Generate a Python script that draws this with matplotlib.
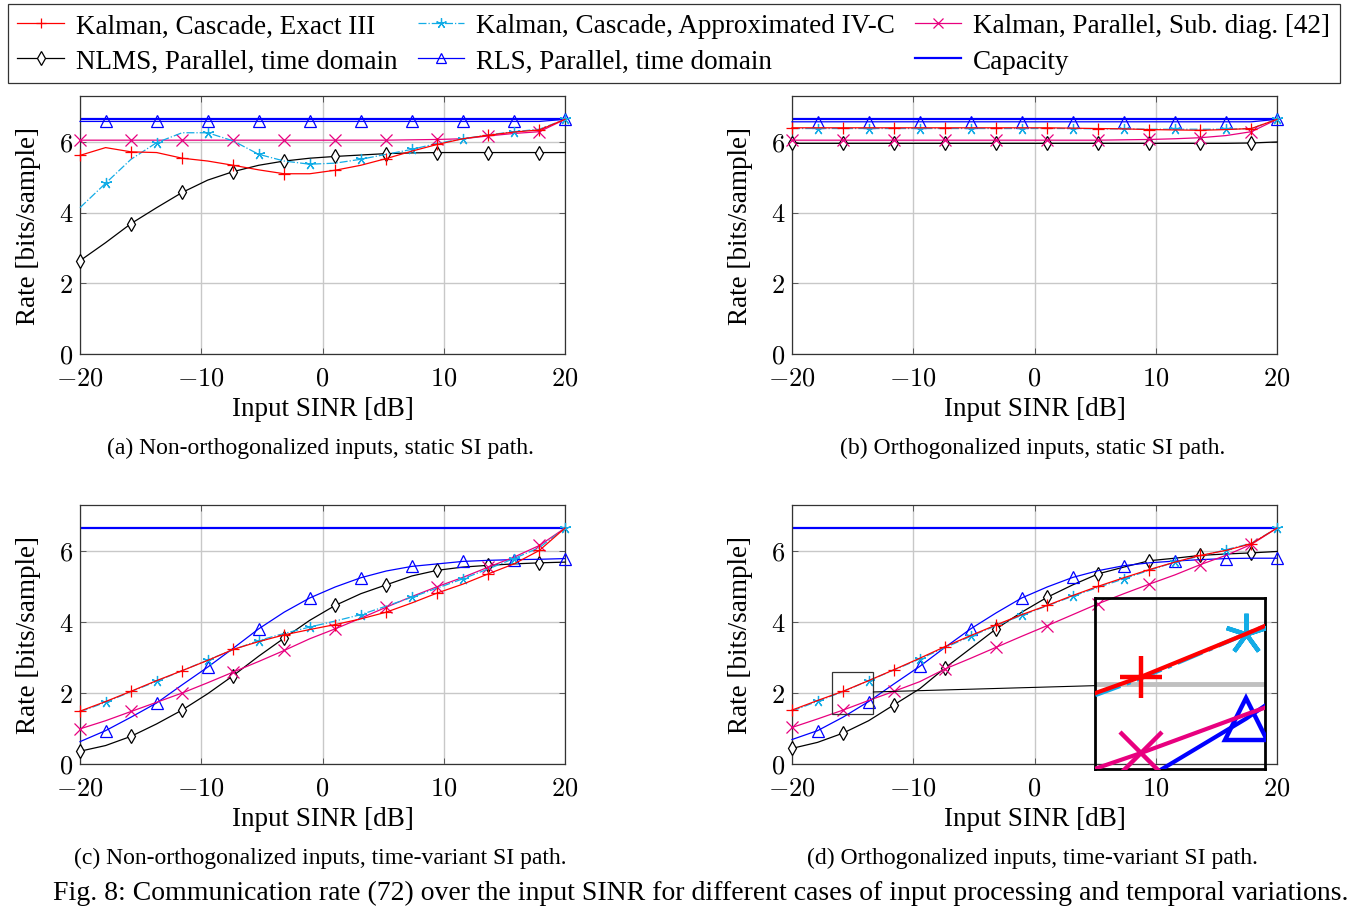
import matplotlib
matplotlib.use("Agg")
import matplotlib.pyplot as plt
from matplotlib.patches import Rectangle, ConnectionPatch
from matplotlib.lines import Line2D

plt.rcParams['font.family'] = ['Liberation Serif', 'DejaVu Serif']
plt.rcParams['mathtext.fontset'] = 'cm'

# Input SINR [dB]
sinr = [-20, -17.89, -15.79, -13.68, -11.58, -9.47, -7.37, -5.26, -3.16, -1.05,
        1.05, 3.16, 5.26, 7.37, 9.47, 11.58, 13.68, 15.79, 17.89, 20]

capacity = 6.66

# (a) non-orthogonalized, static
exact_a = [5.62, 5.84, 5.72, 5.70, 5.54, 5.46, 5.34, 5.21, 5.10, 5.10,
           5.20, 5.34, 5.53, 5.74, 5.93, 6.09, 6.19, 6.28, 6.34, 6.64]
approx_a = [4.14, 4.83, 5.51, 5.98, 6.26, 6.26, 6.03, 5.65, 5.46, 5.37,
            5.40, 5.51, 5.65, 5.79, 5.96, 6.09, 6.20, 6.29, 6.36, 6.64]
subdiag_a = [6.05, 6.05, 6.05, 6.05, 6.05, 6.05, 6.05, 6.05, 6.05, 6.05,
             6.05, 6.05, 6.05, 6.06, 6.07, 6.09, 6.17, 6.24, 6.29, 6.64]
nlms_a = [2.64, 3.15, 3.69, 4.14, 4.57, 4.92, 5.16, 5.34, 5.46, 5.54,
          5.59, 5.63, 5.67, 5.69, 5.70, 5.70, 5.70, 5.70, 5.70, 5.70]
rls_a = [6.58, 6.58, 6.58, 6.58, 6.58, 6.58, 6.58, 6.58, 6.58, 6.58,
         6.58, 6.58, 6.58, 6.58, 6.58, 6.58, 6.58, 6.58, 6.58, 6.64]

# (b) orthogonalized, static
exact_b = [6.40, 6.40, 6.40, 6.40, 6.40, 6.40, 6.40, 6.40, 6.40, 6.40,
           6.40, 6.39, 6.38, 6.37, 6.35, 6.34, 6.33, 6.35, 6.38, 6.64]
approx_b = [6.38, 6.38, 6.38, 6.38, 6.38, 6.38, 6.38, 6.38, 6.38, 6.38,
            6.38, 6.38, 6.37, 6.37, 6.36, 6.36, 6.36, 6.36, 6.38, 6.64]
subdiag_b = [6.05, 6.05, 6.05, 6.05, 6.05, 6.05, 6.05, 6.05, 6.05, 6.05,
             6.05, 6.05, 6.05, 6.06, 6.07, 6.09, 6.12, 6.18, 6.29, 6.64]
nlms_b = [5.96, 5.96, 5.96, 5.96, 5.96, 5.96, 5.96, 5.96, 5.96, 5.96,
          5.96, 5.96, 5.96, 5.96, 5.96, 5.96, 5.96, 5.96, 5.97, 6.00]
rls_b = [6.57, 6.57, 6.57, 6.57, 6.57, 6.57, 6.57, 6.57, 6.57, 6.57,
         6.57, 6.57, 6.57, 6.57, 6.57, 6.57, 6.57, 6.57, 6.57, 6.64]

# (c) non-orthogonalized, time-variant
exact_c = [1.49, 1.76, 2.05, 2.35, 2.63, 2.92, 3.23, 3.45, 3.64, 3.79,
           3.93, 4.09, 4.28, 4.54, 4.82, 5.07, 5.36, 5.64, 6.02, 6.65]
approx_c = [1.47, 1.74, 2.04, 2.33, 2.63, 2.93, 3.22, 3.48, 3.68, 3.86,
            4.03, 4.21, 4.45, 4.70, 4.96, 5.22, 5.50, 5.79, 6.10, 6.65]
subdiag_c = [0.99, 1.22, 1.48, 1.74, 2.00, 2.29, 2.59, 2.89, 3.20, 3.53,
             3.81, 4.11, 4.42, 4.72, 5.00, 5.26, 5.55, 5.83, 6.16, 6.65]
nlms_c = [0.36, 0.52, 0.78, 1.13, 1.52, 1.98, 2.49, 3.04, 3.55, 4.05,
          4.47, 4.80, 5.05, 5.30, 5.46, 5.55, 5.60, 5.64, 5.67, 5.69]
rls_c = [0.63, 0.94, 1.32, 1.72, 2.23, 2.73, 3.26, 3.81, 4.28, 4.68,
         4.99, 5.25, 5.44, 5.57, 5.64, 5.71, 5.74, 5.76, 5.77, 5.79]

# (d) orthogonalized, time-variant
exact_d = [1.52, 1.79, 2.05, 2.35, 2.66, 2.98, 3.31, 3.62, 3.92, 4.21,
           4.47, 4.75, 5.01, 5.25, 5.48, 5.69, 5.88, 6.02, 6.21, 6.65]
approx_d = [1.49, 1.77, 2.04, 2.35, 2.65, 2.96, 3.28, 3.60, 3.90, 4.19,
            4.46, 4.73, 4.98, 5.22, 5.46, 5.69, 5.86, 6.04, 6.22, 6.65]
subdiag_d = [1.03, 1.27, 1.52, 1.79, 2.05, 2.32, 2.68, 2.98, 3.29, 3.60,
             3.90, 4.21, 4.52, 4.80, 5.07, 5.33, 5.62, 5.88, 6.19, 6.65]
nlms_d = [0.44, 0.61, 0.87, 1.22, 1.67, 2.12, 2.71, 3.26, 3.81, 4.28,
          4.70, 5.05, 5.36, 5.55, 5.73, 5.80, 5.88, 5.92, 5.95, 5.99]
rls_d = [0.69, 0.94, 1.32, 1.76, 2.26, 2.75, 3.29, 3.81, 4.26, 4.68,
         4.99, 5.26, 5.45, 5.59, 5.67, 5.72, 5.76, 5.79, 5.80, 5.80]

labels = ["Kalman, Cascade, Exact III", "Kalman, Cascade, Approximated IV-C",
          "Kalman, Parallel, Sub. diag. [42]", "NLMS, Parallel, time domain",
          "RLS, Parallel, time domain", "Capacity"]
captions = ["(a) Non-orthogonalized inputs, static SI path.",
            "(b) Orthogonalized inputs, static SI path.",
            "(c) Non-orthogonalized inputs, time-variant SI path.",
            "(d) Orthogonalized inputs, time-variant SI path."]

RED = '#ff0000'
CYAN = '#13ace6'
PINK = '#e8007f'
BLUE = '#0000ff'
STAR = (5, 2, 0)

# style per series: color, linestyle, marker, markevery
styles = [
    (RED, '-', '+', slice(0, None, 2)),
    (CYAN, '-.', STAR, slice(1, None, 2)),
    (PINK, '-', 'x', slice(0, None, 2)),
    ('black', '-', 'd', slice(0, None, 2)),
    (BLUE, '-', '^', slice(1, None, 2)),
]

panels = [
    (exact_a, approx_a, subdiag_a, nlms_a, rls_a),
    (exact_b, approx_b, subdiag_b, nlms_b, rls_b),
    (exact_c, approx_c, subdiag_c, nlms_c, rls_c),
    (exact_d, approx_d, subdiag_d, nlms_d, rls_d),
]

W, H = 1366, 912
fig = plt.figure(figsize=(W / 100, H / 100), dpi=100)

# pixel boxes: left, top, right, bottom
boxes = [(80, 97, 565, 355), (792, 97, 1277, 355),
         (80, 506, 565, 765), (792, 506, 1277, 765)]


def px_axes(l, t, r, b, **kw):
    return fig.add_axes([l / W, 1 - b / H, (r - l) / W, (b - t) / H], **kw)


def draw_series(ax, series, lw=0.9, ms=8, mew=0.9, cap_lw=1.6, clip=False):
    ax.axhline(capacity, color=BLUE, lw=cap_lw, zorder=2)
    for i in [3, 4, 2, 1, 0]:
        col, ls, mk, me = styles[i]
        fc = 'white' if mk == 'd' else 'none'
        size = ms * 0.95 if mk == 'd' else ms
        ax.plot(sinr, series[i], color=col, ls=ls, lw=lw, marker=mk,
                markevery=me, ms=size, mew=mew, mfc=fc, mec=col,
                zorder=3, clip_on=clip)


axes = []
for k, (box, series) in enumerate(zip(boxes, panels)):
    ax = px_axes(*box)
    draw_series(ax, series)
    ax.set_xticks([-20, -10, 0, 10, 20])
    ax.set_xticklabels(['$-20$', '$-10$', '$0$', '$10$', '$20$'])
    ax.set_yticks([0, 2, 4, 6])
    ax.set_yticklabels(['$0$', '$2$', '$4$', '$6$'])
    ax.set_xlim(-20, 20)
    ax.set_ylim(0, 7.3)
    ax.tick_params(direction='in', length=4, width=0.6, top=True, right=True,
                   labelsize=19, color='#444444')
    ax.tick_params(axis='x', pad=9.5)
    ax.tick_params(axis='y', pad=5)
    ax.grid(True, color='#c8c8c8', lw=1.0)
    ax.set_axisbelow(True)
    for s in ax.spines.values():
        s.set_linewidth(0.9)
        s.set_color('#333333')
    ax.set_xlabel("Input SINR [dB]", fontsize=19.5, labelpad=5)
    ax.set_ylabel("Rate [bits/sample]", fontsize=19.5, labelpad=13)
    l, t, r, b = box
    fig.text(((l + r) / 2 - 2) / W, 1 - (b + 93) / H, captions[k],
             ha='center', va='center', fontsize=17)
    axes.append(ax)

# zoom inset in panel (d)
ax_d = axes[3]
zx0, zx1, zy0, zy1 = -16.7, -13.3, 1.41, 2.6
ax_d.add_patch(Rectangle((zx0, zy0), zx1 - zx0, zy1 - zy0, fill=False,
                         ec='#333333', lw=0.9, zorder=5))
ins = px_axes(1095, 599, 1265, 770)
ins.set_facecolor('none')
draw_series(ins, panels[3], lw=3, ms=30, mew=3.2, cap_lw=3, clip=True)
ins.set_xticks([-20, -10, 0, 10, 20])
ins.set_yticks([0, 2, 4, 6])
ins.set_xlim(zx0, zx1)
ins.set_ylim(zy0, zy1)
ins.tick_params(length=0, labelbottom=False, labelleft=False)
ins.grid(True, color='#c0c0c0', lw=3.5)
ins.set_axisbelow(True)
for s in ins.spines.values():
    s.set_linewidth(2)
    s.set_color('black')
con = ConnectionPatch(xyA=(zx1, 2.03), coordsA=ax_d.transData,
                      xyB=(zx0, 1.99), coordsB=ins.transData,
                      color='black', lw=0.8)
fig.add_artist(con)

# legend
handles = []
for col, ls, mk, me in styles:
    fc = 'white' if mk == 'd' else 'none'
    handles.append(Line2D([], [], color=col, ls=ls, lw=0.9, marker=mk, ms=7.5,
                          mew=0.9, mfc=fc, mec=col))
handles.append(Line2D([], [], color=BLUE, lw=1.6))
order = [0, 3, 1, 4, 2, 5]
leg = fig.legend([handles[i] for i in order], [labels[i] for i in order],
                 ncol=3, loc='upper left', bbox_to_anchor=(8 / W, 1 - 5 / H),
                 borderaxespad=0, frameon=True, fancybox=False,
                 edgecolor='black', fontsize=19.5, handlelength=1.7,
                 handletextpad=0.45, columnspacing=0.75, borderpad=0.35,
                 labelspacing=0.38)
leg.get_frame().set_linewidth(0.9)

fig.text(701 / W, 1 - 893 / H,
         "Fig. 8: Communication rate (72) over the input SINR for different "
         "cases of input processing and temporal variations.",
         ha='center', va='center', fontsize=20)

fig.savefig("out.png", dpi=100)
